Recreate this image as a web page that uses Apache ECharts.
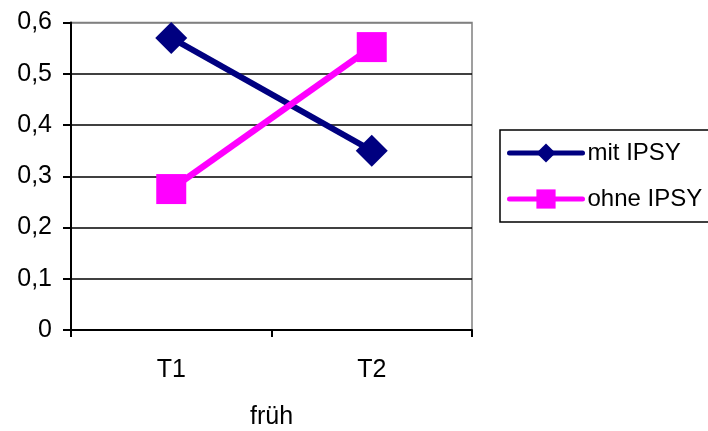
<!DOCTYPE html>
<html>
<head>
<meta charset="utf-8">
<script src="https://cdn.jsdelivr.net/npm/echarts@6/dist/echarts.min.js"></script>
<style>
html,body{margin:0;padding:0;background:#fff;}
#c{width:708px;height:431px;}
</style>
</head>
<body>
<div id="c"></div>
<script>
var categories = ['T1', 'T2'];
var mitIPSY = [0.57, 0.35];
var ohneIPSY = [0.275, 0.552];
var seriesNames = ['mit IPSY', 'ohne IPSY'];
var xAxisTitle = 'früh';

var FONT = '"Liberation Sans", Arial, sans-serif';
var chart = echarts.init(document.getElementById('c'), null, {renderer: 'canvas'});
chart.setOption({
  animation: false,
  backgroundColor: '#fff',
  textStyle: {fontFamily: FONT},
  grid: {
    left: 71, right: 236, top: 22.5, bottom: 101,
    containLabel: false,
    outerBoundsMode: 'none',
    show: true, borderColor: '#808080', borderWidth: 1.5, backgroundColor: 'transparent'
  },
  legend: {
    left: 500, top: 130,
    orient: 'vertical',
    padding: [11, 45, 11, 7],
    itemGap: 22,
    itemWidth: 73,
    itemHeight: 24,
    borderColor: '#000',
    borderWidth: 1.5,
    lineStyle: {width: 5, cap: 'round'},
    textStyle: {fontSize: 24, color: '#000', fontFamily: FONT},
    data: seriesNames
  },
  xAxis: {
    type: 'category',
    data: categories,
    boundaryGap: true,
    name: xAxisTitle,
    nameLocation: 'middle',
    nameGap: 75,
    nameTextStyle: {fontSize: 25, color: '#000', fontFamily: FONT},
    axisLine: {lineStyle: {color: '#000', width: 2}},
    axisTick: {show: true, length: 7, lineStyle: {color: '#000', width: 2}},
    axisLabel: {fontSize: 25, color: '#000', margin: 28, fontFamily: FONT},
    splitLine: {show: false}
  },
  yAxis: {
    type: 'value',
    min: 0, max: 0.6, interval: 0.1,
    axisLine: {show: true, lineStyle: {color: '#000', width: 2}},
    axisTick: {show: true, length: 8, lineStyle: {color: '#000', width: 2}},
    axisLabel: {
      fontSize: 25, color: '#000', margin: 19, fontFamily: FONT,
      formatter: function (v) { return (Math.round(v * 10) / 10).toString().replace('.', ','); }
    },
    splitLine: {show: true, lineStyle: {color: ['#000', '#000', '#000', '#000', '#000', '#000', '#808080'], width: 1.5}}
  },
  series: [
    {
      name: seriesNames[0], type: 'line', data: mitIPSY,
      symbol: 'diamond', symbolSize: 32,
      lineStyle: {color: '#000080', width: 6},
      itemStyle: {color: '#000080'},
      z: 3
    },
    {
      name: seriesNames[1], type: 'line', data: ohneIPSY,
      symbol: 'rect', symbolSize: 30,
      lineStyle: {color: '#FF00FF', width: 6.5},
      itemStyle: {color: '#FF00FF'},
      z: 4
    }
  ]
});
</script>
</body>
</html>
